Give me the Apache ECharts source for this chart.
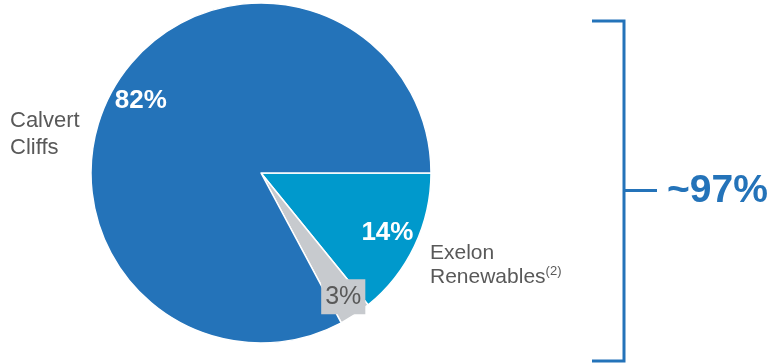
<!DOCTYPE html>
<html>
<head>
<meta charset="utf-8">
<script src="https://cdn.jsdelivr.net/npm/echarts@6/dist/echarts.min.js"></script>
<style>
  html, body { margin: 0; padding: 0; background: #ffffff; }
  #chart { width: 769px; height: 363px; }
</style>
</head>
<body>
<div id="chart"></div>
<script>
// Data (clockwise from 3 o'clock)
const categories = ['Exelon Renewables', 'Other', 'Calvert Cliffs'];
const shares = [14, 3, 82];
const sliceColors = ['#0099CC', '#C7CACE', '#2473B9'];
const totalLabel = '~97%';

const FONT = '"Liberation Sans", Arial, sans-serif';
const BLUE = '#2473B9';
const GREY_TEXT = '#595959';

const pieData = categories.map((c, i) => ({
  name: c, value: shares[i], itemStyle: { color: sliceColors[i] }
}));

const chart = echarts.init(document.getElementById('chart'), null, { renderer: 'canvas' });

chart.setOption({
  backgroundColor: '#ffffff',
  animation: false,
  series: [
    {
      type: 'pie',
      center: [261, 173],
      radius: [0, 170],
      startAngle: 0,
      clockwise: true,
      silent: true,
      label: { show: false },
      labelLine: { show: false },
      itemStyle: { borderColor: '#ffffff', borderWidth: 1.5 },
      data: pieData
    },
    {
      // label ring for the large slices
      type: 'pie',
      center: [261, 173],
      radius: [104, 170],
      startAngle: 0,
      clockwise: true,
      silent: true,
      itemStyle: { color: 'rgba(0,0,0,0)', borderWidth: 0 },
      labelLine: { show: false },
      label: {
        show: true,
        position: 'inside',
        formatter: p => p.value + '%',
        color: '#ffffff',
        fontFamily: FONT,
        fontWeight: 'bold',
        fontSize: 26
      },
      data: categories.map((c, i) => ({
        name: c, value: shares[i],
        label: { show: i !== 1 }
      }))
    },
    {
      // label ring for the small slice
      type: 'pie',
      center: [261, 173],
      radius: [121, 170],
      startAngle: 0,
      clockwise: true,
      silent: true,
      itemStyle: { color: 'rgba(0,0,0,0)', borderWidth: 0 },
      labelLine: { show: false },
      label: {
        show: true,
        position: 'inside',
        formatter: p => p.value + '%',
        color: GREY_TEXT,
        fontFamily: FONT,
        fontSize: 25,
        backgroundColor: '#C7CACE',
        padding: [6, 4, 4, 4]
      },
      data: categories.map((c, i) => ({
        name: c, value: shares[i],
        label: { show: i === 1 }
      }))
    }
  ],
  graphic: [
    {
      type: 'text', left: 10, top: 107,
      style: {
        text: 'Calvert\nCliffs',
        fill: GREY_TEXT, font: '22px ' + FONT, lineHeight: 27
      }
    },
    {
      type: 'text', left: 430, top: 241,
      style: {
        text: 'Exelon\nRenewables{s|(2)}',
        fill: GREY_TEXT, font: '21px ' + FONT, lineHeight: 24,
        rich: {
          s: { fontSize: 13, fontFamily: FONT, fill: GREY_TEXT, verticalAlign: 'top', lineHeight: 24, padding: [0, 0, 10, 0] }
        }
      }
    },
    {
      type: 'polyline',
      shape: { points: [[592, 21], [624, 21], [624, 361], [592, 361]] },
      style: { stroke: BLUE, lineWidth: 3, fill: null }
    },
    {
      type: 'line',
      shape: { x1: 624, y1: 190.5, x2: 657, y2: 190.5 },
      style: { stroke: BLUE, lineWidth: 3 }
    },
    {
      type: 'text', left: 667, top: 172,
      style: {
        text: totalLabel,
        fill: BLUE, font: 'bold 39px ' + FONT
      }
    }
  ]
});
</script>
</body>
</html>
